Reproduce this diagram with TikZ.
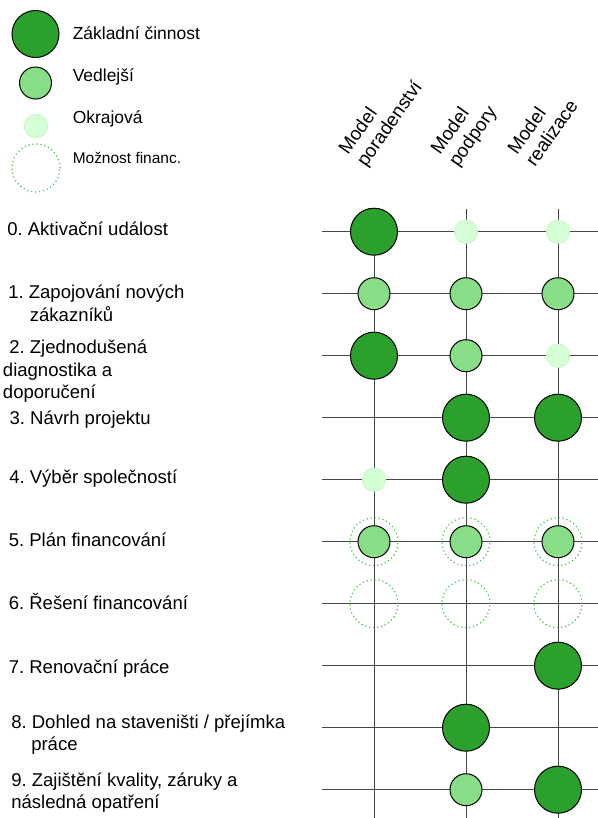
\documentclass[tikz,border=0pt]{standalone}
\usepackage{fontspec}
\setmainfont{Liberation Sans}
\frenchspacing
\definecolor{dkg}{HTML}{2CA02C}
\definecolor{mdg}{HTML}{87DE87}
\definecolor{ltg}{HTML}{D5FFD5}
\definecolor{ltgb}{HTML}{C6F2C6}
\definecolor{dotg}{HTML}{4DBF4D}
\definecolor{gridc}{HTML}{454545}
\begin{document}
\begin{tikzpicture}[x=0.75pt,y=-0.75pt,
  big/.style={circle, draw=black, line width=0.75pt, fill=dkg, minimum size=35.25pt, inner sep=0pt},
  med/.style={circle, draw=black, line width=0.75pt, fill=mdg, minimum size=24pt, inner sep=0pt},
  sml/.style={circle, draw=ltgb, line width=0.5pt, fill=ltg, minimum size=17.6pt, inner sep=0pt},
  fin/.style={circle, draw=dotg, line width=0.9pt, dash pattern=on 0.9pt off 2.1pt, minimum size=36pt, inner sep=0pt},
  gline/.style={draw=gridc, line width=0.75pt},
  lbl/.style={anchor=base west, inner sep=0pt, font=\fontsize{13.9pt}{16pt}\selectfont},
  leg/.style={anchor=base west, inner sep=0pt, font=\fontsize{13.1pt}{15pt}\selectfont},
  hdr/.style={anchor=base west, inner sep=0pt, rotate=55, font=\fontsize{14.2pt}{17pt}\selectfont}]
\useasboundingbox (0,0) rectangle (598,818);
\fill[white] (0,0) rectangle (598,818);

% grid
\foreach \i in {0,...,9}{
  \coordinate (hL\i) at (322,231.7+62*\i);
  \coordinate (hR\i) at (598,231.7+62*\i);
  \draw[gline] (hL\i) -- (hR\i);
}
\foreach \j/\x in {a/374,b/466,c/558}{
  \coordinate (vT\j) at (\x,209);
  \coordinate (vB\j) at (\x,818);
  \draw[gline] (vT\j) -- (vB\j);
}

% legend
\node[big] (lgbig) at (35.5,34) {};
\node[med] (lgmed) at (35.5,83) {};
\node[sml] (lgsml) at (36,126) {};
\node[fin] (lgfin) at (36,168) {};
\node[leg] (lt1) at (72.5,39.3) {Základní činnost};
\node[leg] (lt2) at (72.5,81.7) {Vedlejší};
\node[leg] (lt3) at (72.5,123.3) {Okrajová};
\node[leg, font=\fontsize{11.6pt}{14pt}\selectfont] (lt4) at (72.5,163.3) {Možnost financ.};

% headers
\node[hdr] (h1a) at (348,156) {Model};
\node[hdr] (h1b) at (366,168) {poradenství};
\node[hdr] (h2a) at (440,156) {Model};
\node[hdr] (h2b) at (458,168) {podpory};
\node[hdr] (h3a) at (517,156) {Model};
\node[hdr] (h3b) at (535,168) {realizace};

% row labels
\node[lbl] (r0) at (7,235) {0. Aktivační událost};
\node[lbl] (r1) at (8,298) {1. Zapojování nových};
\node[lbl] (r1b) at (29.6,321.5) {zákazníků};
\node[lbl] (r2) at (9,353) {2. Zjednodušená};
\node[lbl] (r2b) at (2.7,376) {diagnostika a};
\node[lbl] (r2c) at (2.7,398.3) {doporučení};
\node[lbl] (r3) at (9.3,424) {3. Návrh projektu};
\node[lbl] (r4) at (9,483.3) {4. Výběr společností};
\node[lbl] (r5) at (8.5,546.7) {5. Plán financování};
\node[lbl] (r6) at (8.5,609.3) {6. Řešení financování};
\node[lbl] (r7) at (8.5,673.3) {7. Renovační práce};
\node[lbl] (r8) at (11,728.3) {8. Dohled na staveništi / přejímka};
\node[lbl] (r8b) at (31,750) {práce};
\node[lbl] (r9) at (11,786.7) {9. Zajištění kvality, záruky a};
\node[lbl] (r9b) at (11,808.3) {následná opatření};

% circles
\node[big] (c0a) at (374,231.7) {};
\node[sml] (c0b) at (466,231.7) {};
\node[sml] (c0c) at (558,231.7) {};
\node[med] (c1a) at (374,293.7) {};
\node[med] (c1b) at (466,293.7) {};
\node[med] (c1c) at (558,293.7) {};
\node[big] (c2a) at (374,355.7) {};
\node[med] (c2b) at (466,355.7) {};
\node[sml] (c2c) at (558,355.7) {};
\node[big] (c3b) at (466,417.7) {};
\node[big] (c3c) at (558,417.7) {};
\node[sml] (c4a) at (374,479.7) {};
\node[big] (c4b) at (466,479.7) {};
\node[med] (c5a) at (374,541.7) {};
\node[med] (c5b) at (466,541.7) {};
\node[med] (c5c) at (558,541.7) {};
\node[fin] (f5a) at (374,541.7) {};
\node[fin] (f5b) at (466,541.7) {};
\node[fin] (f5c) at (558,541.7) {};
\node[fin] (f6a) at (374,603.7) {};
\node[fin] (f6b) at (466,603.7) {};
\node[fin] (f6c) at (558,603.7) {};
\node[big] (c7c) at (558,665.7) {};
\node[big] (c8b) at (466,727.7) {};
\node[med] (c9b) at (466,789.7) {};
\node[big] (c9c) at (558,789.7) {};
\end{tikzpicture}
\end{document}
